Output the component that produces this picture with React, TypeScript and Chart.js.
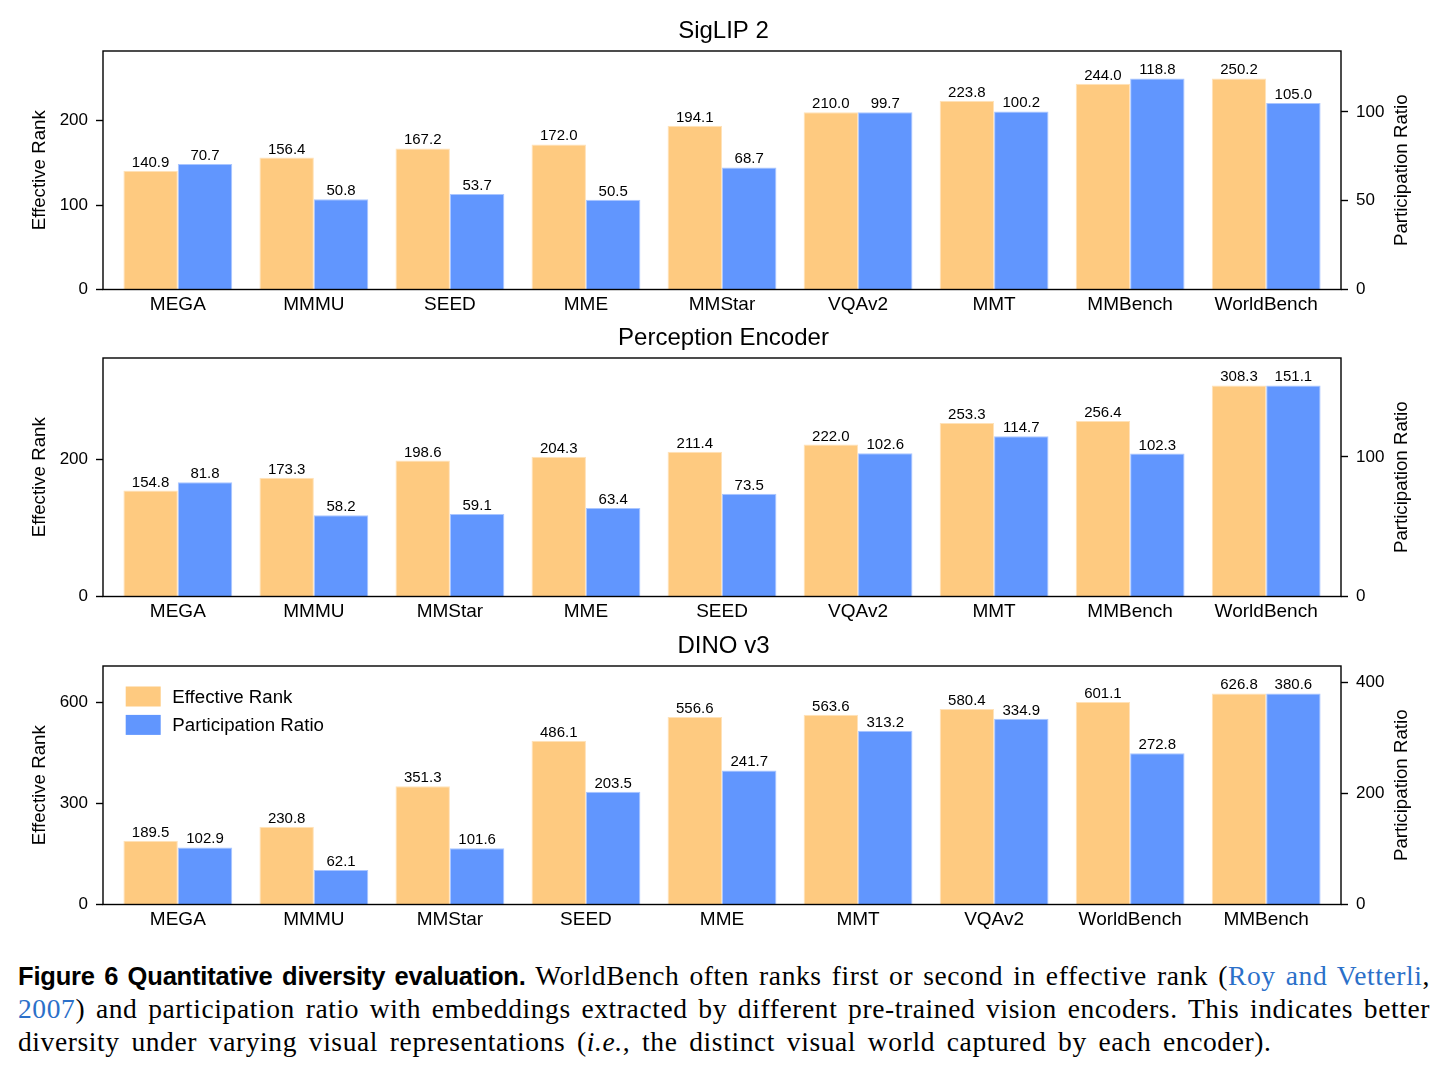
import React, { useEffect, useRef } from "react";
import { Chart, registerables } from "chart.js";

Chart.register(...registerables);

// ---------------------------------------------------------------------------
// Data
// ---------------------------------------------------------------------------
const SERIES_LABELS = ["Effective Rank", "Participation Ratio"];

const siglipCategories = ["MEGA", "MMMU", "SEED", "MME", "MMStar", "VQAv2", "MMT", "MMBench", "WorldBench"];
const siglipEffectiveRank = [140.9, 156.4, 167.2, 172.0, 194.1, 210.0, 223.8, 244.0, 250.2];
const siglipParticipation = [70.7, 50.8, 53.7, 50.5, 68.7, 99.7, 100.2, 118.8, 105.0];
const siglipRankTicks = [0, 100, 200];
const siglipRatioTicks = [0, 50, 100];

const peCategories = ["MEGA", "MMMU", "MMStar", "MME", "SEED", "VQAv2", "MMT", "MMBench", "WorldBench"];
const peEffectiveRank = [154.8, 173.3, 198.6, 204.3, 211.4, 222.0, 253.3, 256.4, 308.3];
const peParticipation = [81.8, 58.2, 59.1, 63.4, 73.5, 102.6, 114.7, 102.3, 151.1];
const peRankTicks = [0, 200];
const peRatioTicks = [0, 100];

const dinoCategories = ["MEGA", "MMMU", "MMStar", "SEED", "MME", "MMT", "VQAv2", "WorldBench", "MMBench"];
const dinoEffectiveRank = [189.5, 230.8, 351.3, 486.1, 556.6, 563.6, 580.4, 601.1, 626.8];
const dinoParticipation = [102.9, 62.1, 101.6, 203.5, 241.7, 313.2, 334.9, 272.8, 380.6];
const dinoRankTicks = [0, 300, 600];
const dinoRatioTicks = [0, 200, 400];

// ---------------------------------------------------------------------------
// Styling / layout
// ---------------------------------------------------------------------------
const SANS = '"Liberation Sans", Arial, Helvetica, sans-serif';
const ORANGE = "rgb(254, 202, 128)";
const BLUE = "rgb(97, 150, 254)";
const ORANGE_EDGE = "rgba(255, 226, 185, 1)";
const BLUE_EDGE = "rgba(170, 198, 255, 1)";
const HEADROOM = 1.13;

const PAGE_W = 1447;
const CANVAS_H = 330;
const PLOT_LEFT = 103;
const PLOT_RIGHT = 1341;
const PLOT_BOTTOM = 289.5;

type PanelProps = {
  title: string;
  categories: string[];
  rank: number[];
  ratio: number[];
  rankTicks: number[];
  ratioTicks: number[];
  top: number;
  showLegend?: boolean;
};

// Black frame around the plotting area (all four spines).
const framePlugin = {
  id: "frame",
  afterDatasetsDraw(chart: any) {
    const { ctx, chartArea } = chart;
    ctx.save();
    ctx.strokeStyle = "#000";
    ctx.lineWidth = 1.4;
    ctx.strokeRect(chartArea.left, chartArea.top, chartArea.right - chartArea.left, chartArea.bottom - chartArea.top);
    ctx.restore();
  },
};

// Numeric value written above every bar.
const valueLabelPlugin = {
  id: "valueLabels",
  afterDatasetsDraw(chart: any) {
    const { ctx } = chart;
    ctx.save();
    ctx.fillStyle = "#000";
    ctx.font = `15px ${SANS}`;
    ctx.textAlign = "center";
    ctx.textBaseline = "alphabetic";
    chart.data.datasets.forEach((ds: any, di: number) => {
      const meta = chart.getDatasetMeta(di);
      meta.data.forEach((el: any, i: number) => {
        const v = ds.data[i].y as number;
        ctx.fillText(v.toFixed(1), el.x, el.y - 4);
      });
    });
    ctx.restore();
  },
};

// Rotated axis titles on both sides (both read bottom-to-top).
const axisTitlePlugin = {
  id: "axisTitles",
  afterDraw(chart: any) {
    const { ctx, chartArea } = chart;
    const midY = (chartArea.top + chartArea.bottom) / 2;
    ctx.save();
    ctx.fillStyle = "#000";
    ctx.font = `18.7px ${SANS}`;
    ctx.textAlign = "center";
    ctx.textBaseline = "middle";
    const draw = (text: string, x: number) => {
      ctx.save();
      ctx.translate(x, midY);
      ctx.rotate(-Math.PI / 2);
      ctx.fillText(text, 0, 0);
      ctx.restore();
    };
    draw(SERIES_LABELS[0], 39.5);
    draw(SERIES_LABELS[1], 1401.5);
    ctx.restore();
  },
};

// Legend placed inside the upper-left corner of the plotting area.
const insideLegendPlugin = {
  id: "insideLegend",
  afterDraw(chart: any) {
    const { ctx, chartArea } = chart;
    ctx.save();
    ctx.font = `18.7px ${SANS}`;
    ctx.textAlign = "left";
    ctx.textBaseline = "middle";
    chart.data.datasets.forEach((ds: any, i: number) => {
      const cy = chartArea.top + 30.5 + i * 28.4;
      ctx.fillStyle = ds.backgroundColor;
      ctx.fillRect(chartArea.left + 22.7, cy - 10, 35, 20);
      ctx.fillStyle = "#000";
      ctx.fillText(ds.label, chartArea.left + 69.3, cy + 1);
    });
    ctx.restore();
  },
};

function Panel({ title, categories, rank, ratio, rankTicks, ratioTicks, top, showLegend }: PanelProps) {
  const ref = useRef<HTMLCanvasElement | null>(null);

  useEffect(() => {
    if (!ref.current) return;
    const n = categories.length;
    const plugins: any[] = [framePlugin, valueLabelPlugin, axisTitlePlugin];
    if (showLegend) plugins.push(insideLegendPlugin);

    const yCommon = {
      type: "linear",
      min: 0,
      grid: { display: true, drawOnChartArea: false, drawTicks: true, tickLength: 7, tickWidth: 1.4, tickColor: "#000" },
      border: { display: false },
      ticks: { padding: 8, color: "#000", font: { family: SANS, size: 17 } },
    };

    const chart = new Chart(ref.current, {
      type: "bar",
      data: {
        datasets: [
          {
            label: SERIES_LABELS[0],
            data: rank.map((v, i) => ({ x: i, y: v })),
            yAxisID: "yRank",
            backgroundColor: ORANGE,
            borderColor: ORANGE_EDGE,
            borderWidth: 1,
            borderSkipped: "start",
            categoryPercentage: 0.8,
            barPercentage: 1.0,
          },
          {
            label: SERIES_LABELS[1],
            data: ratio.map((v, i) => ({ x: i, y: v })),
            yAxisID: "yRatio",
            backgroundColor: BLUE,
            borderColor: BLUE_EDGE,
            borderWidth: 1,
            borderSkipped: "start",
            categoryPercentage: 0.8,
            barPercentage: 1.0,
          },
        ],
      } as any,
      options: {
        responsive: false,
        animation: false,
        events: [],
        layout: { padding: { top: 16.9, left: 0, right: 0, bottom: 0 } },
        plugins: {
          legend: { display: false },
          tooltip: { enabled: false },
          title: {
            display: true,
            text: title,
            color: "#000",
            font: { family: SANS, size: 24, weight: "normal", lineHeight: 1.2 },
            padding: { top: 0, bottom: 5.3 },
          },
        },
        scales: {
          x: {
            type: "linear",
            min: -0.55,
            max: n - 1 + 0.55,
            offset: false,
            grid: { display: false, drawTicks: false },
            border: { display: false },
            afterBuildTicks: (s: any) => {
              s.ticks = categories.map((_, i) => ({ value: i }));
            },
            afterFit: (s: any) => {
              s.height = CANVAS_H - PLOT_BOTTOM;
            },
            ticks: {
              autoSkip: false,
              maxRotation: 0,
              minRotation: 0,
              padding: 4,
              color: "#000",
              font: { family: SANS, size: 19 },
              callback: (v: any) => categories[Math.round(Number(v))] ?? "",
            },
          },
          yRank: {
            ...yCommon,
            position: "left",
            max: Math.max(...rank) * HEADROOM,
            afterBuildTicks: (s: any) => {
              s.ticks = rankTicks.map((v) => ({ value: v }));
            },
            afterFit: (s: any) => {
              s.width = PLOT_LEFT;
            },
          },
          yRatio: {
            ...yCommon,
            position: "right",
            max: Math.max(...ratio) * HEADROOM,
            afterBuildTicks: (s: any) => {
              s.ticks = ratioTicks.map((v) => ({ value: v }));
            },
            afterFit: (s: any) => {
              s.width = PAGE_W - PLOT_RIGHT;
            },
          },
        },
      } as any,
      plugins,
    });
    return () => chart.destroy();
  }, [title, categories, rank, ratio, rankTicks, ratioTicks, showLegend]);

  return (
    <canvas
      ref={ref}
      width={PAGE_W}
      height={CANVAS_H}
      style={{ position: "absolute", left: 0, top, width: PAGE_W, height: CANVAS_H }}
    />
  );
}

const LINK = "#2b70c9";

export default function App() {
  const lineBase: React.CSSProperties = {
    whiteSpace: "nowrap",
    height: 33,
  };
  const justified: React.CSSProperties = {
    ...lineBase,
    textAlign: "justify",
    textAlignLast: "justify" as any,
  };
  return (
    <div style={{ position: "absolute", left: 0, top: 0, width: PAGE_W, height: 1071, background: "#fff", overflow: "hidden" }}>
      <Panel
        title="SigLIP 2"
        categories={siglipCategories}
        rank={siglipEffectiveRank}
        ratio={siglipParticipation}
        rankTicks={siglipRankTicks}
        ratioTicks={siglipRatioTicks}
        top={0}
      />
      <Panel
        title="Perception Encoder"
        categories={peCategories}
        rank={peEffectiveRank}
        ratio={peParticipation}
        rankTicks={peRankTicks}
        ratioTicks={peRatioTicks}
        top={307}
      />
      <Panel
        title="DINO v3"
        categories={dinoCategories}
        rank={dinoEffectiveRank}
        ratio={dinoParticipation}
        rankTicks={dinoRankTicks}
        ratioTicks={dinoRatioTicks}
        top={614.5}
        showLegend
      />
      <div
        style={{
          position: "absolute",
          left: 18,
          top: 959.2,
          width: 1412,
          fontFamily: '"Liberation Serif", "Times New Roman", serif',
          fontSize: 27.5,
          lineHeight: "33px",
          letterSpacing: 0.6,
          color: "#000",
        }}
      >
        <div style={justified}>
          <span style={{ fontFamily: SANS, fontWeight: "bold", fontSize: 25.5, letterSpacing: -0.2 }}>
            Figure 6 Quantitative diversity evaluation.
          </span>{" "}
          WorldBench often ranks first or second in effective rank (<span style={{ color: LINK }}>Roy and Vetterli</span>,
        </div>
        <div style={justified}>
          <span style={{ color: LINK }}>2007</span>) and participation ratio with embeddings extracted by different
          pre-trained vision encoders. This indicates better
        </div>
        <div style={{ ...lineBase, wordSpacing: 4.3 }}>
          diversity under varying visual representations (<i>i.e.</i>, the distinct visual world captured by each
          encoder).
        </div>
      </div>
    </div>
  );
}
